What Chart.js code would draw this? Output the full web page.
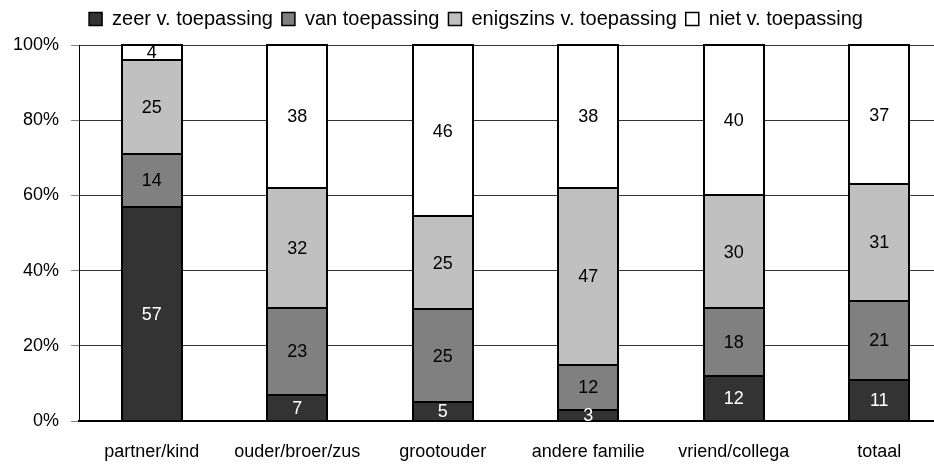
<!DOCTYPE html>
<html>
<head>
<meta charset="utf-8">
<script src="https://cdn.jsdelivr.net/npm/chart.js@4"></script>
<style>
  html, body { margin: 0; padding: 0; background: #fff; overflow: hidden; }
  #wrap { width: 952px; height: 471px; }
</style>
</head>
<body>
<div id="wrap"><canvas id="c"></canvas></div>
<script>
const categories = ["partner/kind", "ouder/broer/zus", "grootouder", "andere familie", "vriend/collega", "totaal"];
const seriesNames = ["zeer v. toepassing", "van toepassing", "enigszins v. toepassing", "niet v. toepassing"];
const zeer = [57, 7, 5, 3, 12, 11];
const van = [14, 23, 25, 12, 18, 21];
const enigszins = [25, 32, 25, 47, 30, 31];
const niet = [4, 38, 46, 38, 40, 37];
const yTicks = [0, 20, 40, 60, 80, 100];

const colors = ["#333333", "#808080", "#c0c0c0", "#ffffff"];
const FONT = "'Liberation Sans', Arial, sans-serif";

const raw = [zeer, van, enigszins, niet];
const totals = categories.map((_, i) => raw.reduce((s, arr) => s + arr[i], 0));

const datasets = raw.map((arr, k) => ({
  label: seriesNames[k],
  data: arr.map((v, i) => v / totals[i] * 100),
  rawValues: arr,
  backgroundColor: colors[k],
  borderWidth: 0,
  barPercentage: 0.41,
  categoryPercentage: 1
}));

// crisp outlines + numbers inside the segments
const valueLabels = {
  id: "valueLabels",
  afterDatasetsDraw(chart) {
    const ctx = chart.ctx;
    ctx.save();
    ctx.strokeStyle = "#000";
    ctx.lineWidth = 2;
    chart.data.datasets.forEach((ds, k) => {
      chart.getDatasetMeta(k).data.forEach(el => {
        const l = Math.round(el.x - el.width / 2);
        const r = Math.round(el.x + el.width / 2);
        const t = Math.round(el.y);
        const b = Math.round(el.base);
        ctx.strokeRect(l, t, r - l, b - t);
      });
    });
    ctx.font = "18px " + FONT;
    ctx.textAlign = "center";
    ctx.textBaseline = "middle";
    chart.data.datasets.forEach((ds, k) => {
      chart.getDatasetMeta(k).data.forEach((el, i) => {
        const y = (el.y + el.base) / 2;
        ctx.fillStyle = k === 0 ? "#fff" : "#000";
        ctx.fillText(String(ds.rawValues[i]), el.x, y + 1);
      });
    });
    ctx.restore();
  }
};

const legendSpace = {
  id: "legendSpace",
  beforeInit(chart) {
    const fit = chart.legend.fit;
    chart.legend.fit = function () {
      fit.bind(chart.legend)();
      this.height = 45;
    };
  }
};

new Chart(document.getElementById("c"), {
  type: "bar",
  data: { labels: categories, datasets },
  plugins: [valueLabels, legendSpace],
  options: {
    responsive: true,
    maintainAspectRatio: false,
    animation: false,
    layout: { padding: 0 },
    plugins: {
      tooltip: { enabled: false },
      legend: {
        position: "top",
        labels: {
          color: "#000",
          font: { family: FONT, size: 20 },
          boxWidth: 13,
          boxHeight: 13,
          padding: 9,
          generateLabels(chart) {
            return chart.data.datasets.map((ds, i) => ({
              text: ds.label,
              fillStyle: ds.backgroundColor,
              strokeStyle: "#000",
              lineWidth: 1.5,
              fontColor: "#000",
              hidden: false,
              datasetIndex: i
            }));
          }
        }
      }
    },
    scales: {
      x: {
        stacked: true,
        grid: { display: false, drawTicks: false },
        border: { color: "#000", width: 2 },
        ticks: { color: "#000", font: { family: FONT, size: 18 }, padding: 20 },
        afterFit(scale) { scale.height = 50; }
      },
      y: {
        stacked: true,
        min: 0,
        max: 100,
        afterBuildTicks(scale) { scale.ticks = yTicks.map(v => ({ value: v })); },
        grid: { color: "#333", lineWidth: 1, tickLength: 8, tickColor: "#808080" },
        border: { color: "#000", width: 1 },
        ticks: {
          color: "#000",
          font: { family: FONT, size: 18 },
          padding: 12,
          callback: v => v + "%"
        },
        afterFit(scale) { scale.width = 79; }
      }
    }
  }
});
</script>
</body>
</html>
